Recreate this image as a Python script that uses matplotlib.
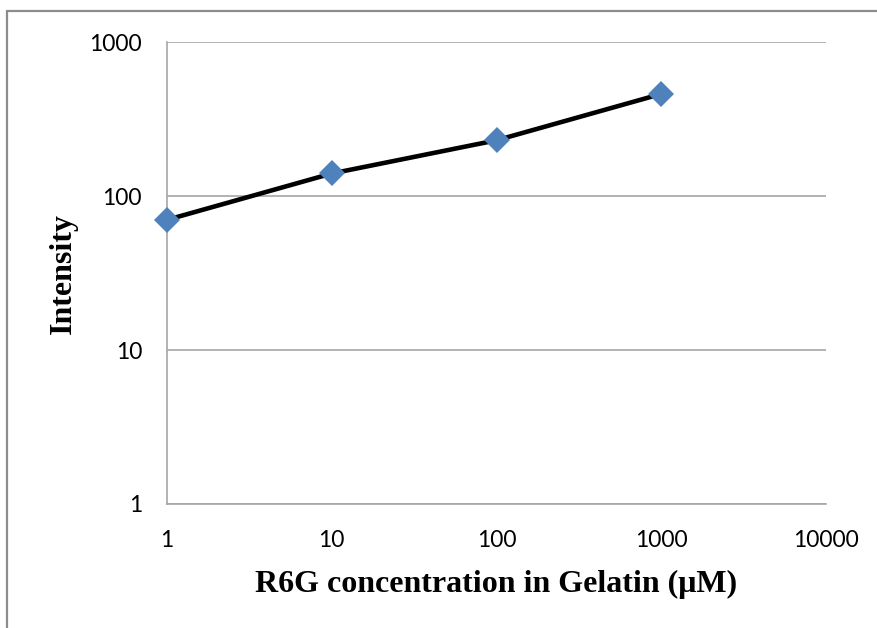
import matplotlib
matplotlib.use('Agg')
import matplotlib.pyplot as plt
from matplotlib.patches import Rectangle

# R6G concentration (uM) vs fluorescence intensity
concentracao = [1, 10, 100, 1000]
intensidade = [70, 140, 230, 460]
x_ticks = [1, 10, 100, 1000, 10000]
y_ticks = [1, 10, 100, 1000]

fig = plt.figure(figsize=(8.77, 6.28), dpi=100)
ax = fig.add_axes([167 / 877, 1 - 504 / 628, (826 - 167) / 877, (504 - 42) / 628])

# moldura cinza do grafico
fig.patches.append(Rectangle((7 / 877, -0.2), 1.2, 1 - 11 / 628 + 0.2,
                             transform=fig.transFigure, fill=False,
                             edgecolor='#8c8c8c', linewidth=1.6))

ax.plot(concentracao, intensidade, color='black', lw=3.3, zorder=2)
ax.plot(concentracao, intensidade, 'D', color='#4F81BD', markersize=13,
        markeredgewidth=0, zorder=3, clip_on=False)

ax.set_xscale('log')
ax.set_yscale('log')
ax.set_xlim(1, 10000)
ax.set_ylim(1, 1000)
ax.set_xticks(x_ticks)
ax.set_xticklabels([str(t) for t in x_ticks])
ax.set_yticks(y_ticks)
ax.set_yticklabels([str(t) for t in y_ticks])
ax.minorticks_off()
ax.tick_params(length=0, labelsize=16.5, colors='black')
ax.tick_params(axis='x', pad=19)
ax.tick_params(axis='y', pad=18)
for lbl in ax.get_xticklabels() + ax.get_yticklabels():
    lbl.set_family('Lato')

ax.grid(axis='y', color='#a6a6a6', lw=1.2)
ax.set_axisbelow(True)
for lado in ['top', 'right']:
    ax.spines[lado].set_visible(False)
for lado in ['left', 'bottom']:
    ax.spines[lado].set_color('#a6a6a6')
    ax.spines[lado].set_linewidth(1.2)

ax.set_xlabel('R6G concentration in Gelatin (μM)', family='Liberation Serif',
              fontweight='bold', fontsize=23, labelpad=13)
ax.set_ylabel('Intensity', family='Liberation Serif', fontweight='bold',
              fontsize=23, labelpad=8)

fig.savefig('out.png', dpi=100)
